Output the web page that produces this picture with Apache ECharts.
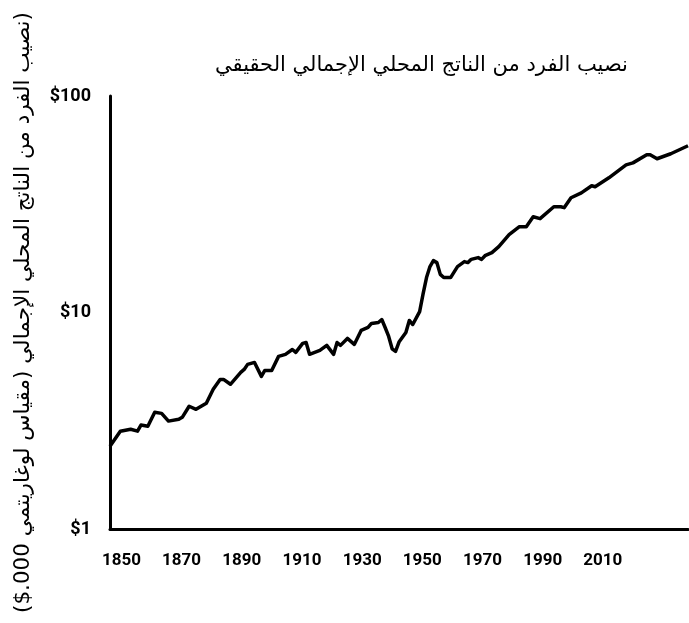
<!DOCTYPE html>
<html>
<head>
<meta charset="utf-8">
<script src="https://cdn.jsdelivr.net/npm/echarts@6/dist/echarts.min.js"></script>
<style>
  html, body { margin: 0; padding: 0; background: #fff; }
  #chart { width: 689px; height: 623px; }
</style>
</head>
<body>
<div id="chart"></div>
<script>
    // سنوات ونقاط مقروءة من الرسم (ألف دولار)
    let years = [1850, 1853, 1856, 1858, 1859, 1861, 1863, 1865, 1867, 1870,
        1871, 1873, 1875, 1878, 1880, 1882, 1883, 1885, 1888, 1889,
        1890, 1892, 1894, 1895, 1897, 1899, 1901, 1903, 1904, 1906,
        1907, 1908, 1911, 1913, 1915, 1916, 1917, 1919, 1921, 1923,
        1925, 1926, 1928, 1929, 1930, 1931, 1932, 1933, 1934, 1936,
        1937, 1938, 1940, 1941, 1942, 1943, 1944, 1945, 1946, 1947,
        1949, 1951, 1953, 1954, 1955, 1957, 1958, 1959, 1961, 1963,
        1966, 1969, 1971, 1973, 1975, 1979, 1981, 1982, 1984, 1987,
        1990, 1991, 1995, 2000, 2002, 2006, 2007, 2009, 2013, 2018]
    let gdp = [2.41, 2.83, 2.89, 2.83, 3.02, 2.98, 3.46, 3.42, 3.15, 3.21,
        3.28, 3.69, 3.57, 3.81, 4.42, 4.91, 4.91, 4.66, 5.29, 5.46,
        5.76, 5.88, 5.07, 5.40, 5.40, 6.27, 6.41, 6.75, 6.54, 7.20,
        7.27, 6.41, 6.68, 7.05, 6.41, 7.27, 7.05, 7.59, 7.12, 8.26,
        8.53, 8.90, 8.99, 9.28, 8.50, 7.75, 6.80, 6.61, 7.30, 8.09,
        9.19, 8.80, 10.1, 12.2, 14.5, 16.3, 17.36, 17.0, 15.0, 14.5,
        14.5, 16.3, 17.18, 17.0, 17.6, 17.93, 17.6, 18.3, 18.9, 20.15,
        22.88, 24.91, 24.91, 27.7, 27.12, 30.8, 30.8, 30.5, 33.9, 35.7,
        38.5, 38.1, 41.9, 48.1, 49.1, 53.5, 53.5, 51.3, 54.1, 58.9]
    let xLabels = [1850, 1870, 1890, 1910, 1930, 1950, 1970, 1990, 2010]
    let yTicks = [1, 10, 100]

    let titleText = "نصيب الفرد من الناتج المحلي الإجمالي الحقيقي"
    // ترتيب الأقواس كما يظهر في الأصل
    let yName = "($.000 " + "\u202B" + "(نصيب الفرد من الناتج المحلي الإجمالي (مقياس لوغاريتمي" + "\u202C"

    let points = []
    for (let i = 0; i < years.length; i++) {
        points.push([years[i], gdp[i]])
    }

    var myChart = echarts.init(document.getElementById("chart"), null, {renderer: "canvas"})

    var option = {
        animation: false,
        backgroundColor: "#fff",
        title: {
            text: titleText,
            left: 210,
            top: 50,
            textStyle: {
                fontFamily: "DejaVu Sans",
                fontSize: 21,
                fontWeight: "normal",
                color: "#000"
            }
        },
        grid: {
            left: 110,
            right: 1,
            top: 96,
            bottom: 94
        },
        xAxis: [{
            // محور البيانات
            type: "value",
            min: 1850,
            max: 2018,
            show: false
        }, {
            // محور التسميات كما في الأصل
            type: "value",
            position: "bottom",
            min: 1846.2,
            max: 2038.3,
            axisLine: {show: true, lineStyle: {color: "#000", width: 3}},
            axisTick: {show: false},
            splitLine: {show: false},
            axisLabel: {
                customValues: xLabels,
                color: "#000",
                fontFamily: "Roboto",
                fontWeight: "bold",
                fontSize: 17,
                margin: 23,
                formatter: function (v) { return String(v) }
            }
        }],
        yAxis: {
            type: "log",
            logBase: 10,
            min: yTicks[0],
            max: yTicks[yTicks.length - 1],
            name: yName,
            nameLocation: "middle",
            nameGap: 76,
            nameTextStyle: {
                fontFamily: "DejaVu Sans",
                fontSize: 21.5,
                color: "#000"
            },
            axisLine: {show: true, lineStyle: {color: "#000", width: 3}},
            axisTick: {show: false},
            splitLine: {show: false},
            axisLabel: {
                color: "#000",
                fontFamily: "Roboto",
                fontWeight: "bold",
                fontSize: 18,
                margin: 19,
                formatter: function (v) { return "$" + v }
            }
        },
        series: [{
            type: "line",
            xAxisIndex: 0,
            data: points,
            showSymbol: false,
            lineStyle: {color: "#000", width: 3.5, join: "round"}
        }]
    }

    myChart.setOption(option)
</script>
</body>
</html>
